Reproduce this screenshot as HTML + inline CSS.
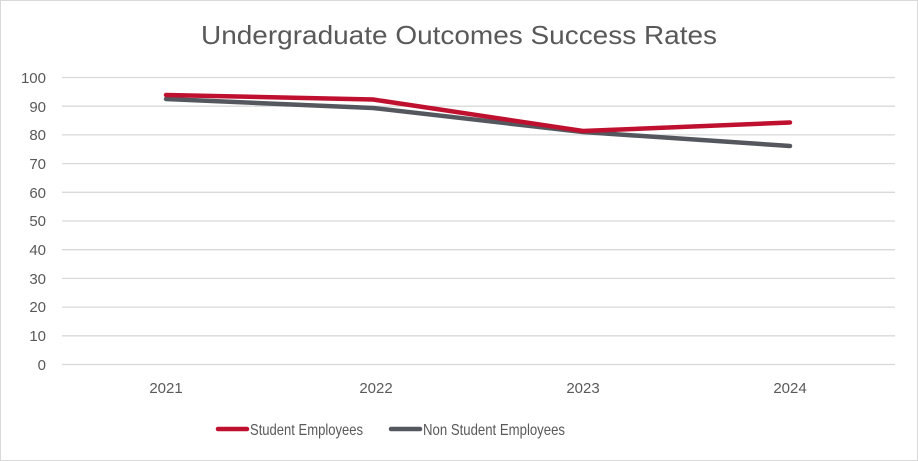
<!DOCTYPE html>
<html><head><style>
body{margin:0;background:#fff;}
svg{display:block;font-family:"Liberation Sans",sans-serif;}
</style></head><body>
<svg width="918" height="461" viewBox="0 0 918 461">
<rect x="0.5" y="0.5" width="917" height="460" fill="#fff" stroke="#d9d9d9"/>
<text x="201" y="44" font-size="26" fill="#595959" textLength="516" lengthAdjust="spacingAndGlyphs">Undergraduate Outcomes Success Rates</text>
<g stroke="#d9d9d9" stroke-width="1.3">
<line x1="62" x2="895" y1="77.5" y2="77.5"/><line x1="62" x2="895" y1="106.2" y2="106.2"/>
<line x1="62" x2="895" y1="134.9" y2="134.9"/><line x1="62" x2="895" y1="163.6" y2="163.6"/>
<line x1="62" x2="895" y1="192.3" y2="192.3"/><line x1="62" x2="895" y1="221" y2="221"/>
<line x1="62" x2="895" y1="249.7" y2="249.7"/><line x1="62" x2="895" y1="278.4" y2="278.4"/>
<line x1="62" x2="895" y1="307.1" y2="307.1"/><line x1="62" x2="895" y1="335.8" y2="335.8"/>
<line x1="62" x2="895" y1="364.5" y2="364.5"/>
</g>
<g font-size="15" fill="#595959" text-anchor="end">
<text x="46" y="83">100</text><text x="46" y="112">90</text><text x="46" y="140">80</text>
<text x="46" y="169">70</text><text x="46" y="198">60</text><text x="46" y="226">50</text>
<text x="46" y="255">40</text><text x="46" y="284">30</text><text x="46" y="312">20</text>
<text x="46" y="341">10</text><text x="46" y="370">0</text>
</g>
<g font-size="15" fill="#595959" text-anchor="middle">
<text x="166" y="393">2021</text><text x="376" y="393">2022</text>
<text x="583" y="393">2023</text><text x="790" y="393">2024</text>
</g>
<polyline points="166,99 373,108 583,132 790,146" fill="none" stroke="#54585E" stroke-width="4.5" stroke-linejoin="round" stroke-linecap="round"/>
<polyline points="166,95 373,99.5 583,131 790,122.5" fill="none" stroke="#C0102F" stroke-width="4.5" stroke-linejoin="round" stroke-linecap="round"/>
<line x1="218" x2="247" y1="429" y2="429" stroke="#C0102F" stroke-width="4.5" stroke-linecap="round"/>
<text x="250" y="435" font-size="16" fill="#595959" textLength="113" lengthAdjust="spacingAndGlyphs">Student Employees</text>
<line x1="391" x2="420" y1="429" y2="429" stroke="#54585E" stroke-width="4.5" stroke-linecap="round"/>
<text x="423" y="435" font-size="16" fill="#595959" textLength="142" lengthAdjust="spacingAndGlyphs">Non Student Employees</text>
</svg>
</body></html>
